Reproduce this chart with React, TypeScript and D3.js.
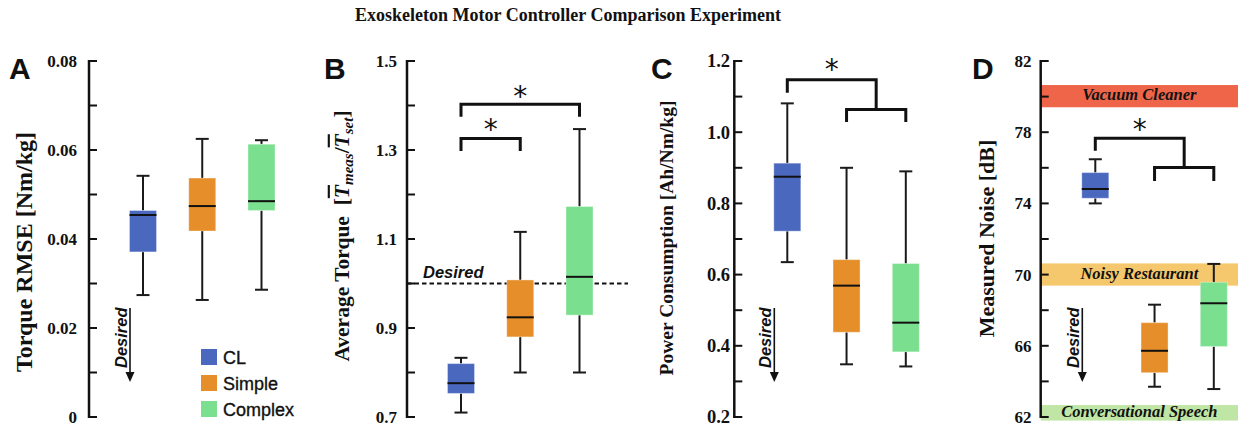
import React from "react";
import * as d3 from "d3";

// ---------------- data ----------------
const controllers = ["CL", "Simple", "Complex"];
const controllerColors = ["#4a68be", "#e68f2a", "#7adf8e"];

// each row: [lower whisker, Q1, median, Q3, upper whisker]
const rmseCL = [0.0274, 0.0371, 0.0454, 0.0464, 0.0542];
const rmseSimple = [0.0263, 0.0418, 0.0474, 0.0537, 0.0625];
const rmseComplex = [0.0286, 0.0464, 0.0485, 0.0613, 0.0622];

const torqueCL = [0.71, 0.753, 0.776, 0.82, 0.833];
const torqueSimple = [0.8, 0.88, 0.924, 1.008, 1.116];
const torqueComplex = [0.8, 0.929, 1.015, 1.173, 1.347];

const powerCL = [0.635, 0.722, 0.875, 0.913, 1.081];
const powerSimple = [0.348, 0.438, 0.569, 0.642, 0.9];
const powerComplex = [0.342, 0.383, 0.465, 0.631, 0.89];

const noiseCL = [74.0, 74.29, 74.81, 75.73, 76.48];
const noiseSimple = [63.7, 64.49, 65.72, 67.3, 68.31];
const noiseComplex = [63.57, 65.96, 68.39, 69.57, 70.6];

const rmseTicks = [0, 0.02, 0.04, 0.06, 0.08];
const torqueTicks = [0.7, 0.9, 1.1, 1.3, 1.5];
const powerTicks = [0.2, 0.4, 0.6, 0.8, 1.0, 1.2];
const noiseTicks = [62, 66, 70, 74, 78, 82];

const desiredTorque = 1.0;

const noiseBandLabels = ["Vacuum Cleaner", "Noisy Restaurant", "Conversational Speech"];
const noiseBandLow = [79.4, 69.38, 61.8];
const noiseBandHigh = [80.65, 70.63, 62.67];
const noiseBandColors = ["#ee6549", "#f5c86d", "#bfe6a4"];

// significance brackets (value coordinates)
// simple bracket: [fromIdx, toIdx, top, legBottom, starValue]
const torqueBrackets = [
  [0, 1, 1.326, 1.298, 1.356],
  [0, 2, 1.403, 1.375, 1.431],
];
// split bracket: [top, leftLegBottom, lowerTop, lowerLegBottom, starValue]
const powerSplit = [1.147, 1.111, 1.064, 1.029, 1.189];
const noiseSplit = [77.66, 76.96, 76.01, 75.26, 78.4];

// ---------------- layout ----------------
const W = 1238;
const H = 428;
const TOP = 61;
const BOTTOM = 417;
const SERIF = "'Liberation Serif', 'Times New Roman', serif";
const SANS = "'Liberation Sans', Arial, sans-serif";

type Panel = {
  letter: string;
  letterX: number;
  axisX: number;
  firstOffset: number;
  domain: [number, number];
  nTicks: number;
  labels: number[];
  fmt: (v: number) => string;
  labelRight: number;
  labelSize: number;
  stats: number[][];
  titleX: number;
  titleY: number;
  titleSize: number;
};

const panels: Panel[] = [
  {
    letter: "A", letterX: 9, axisX: 89, firstOffset: 54, domain: [0, 0.08], nTicks: 8,
    labels: rmseTicks, fmt: (v) => (v === 0 ? "0" : v.toFixed(2)), labelRight: 77, labelSize: 17,
    stats: [rmseCL, rmseSimple, rmseComplex], titleX: 26.5, titleY: 252, titleSize: 24,
  },
  {
    letter: "B", letterX: 324, axisX: 407, firstOffset: 54, domain: [0.7, 1.5], nTicks: 8,
    labels: torqueTicks, fmt: (v) => v.toFixed(1), labelRight: 397, labelSize: 17,
    stats: [torqueCL, torqueSimple, torqueComplex], titleX: 344, titleY: 236, titleSize: 21.5,
  },
  {
    letter: "C", letterX: 651, axisX: 734.3, firstOffset: 53, domain: [0.2, 1.2], nTicks: 10,
    labels: powerTicks, fmt: (v) => v.toFixed(1), labelRight: 730, labelSize: 18.5,
    stats: [powerCL, powerSimple, powerComplex], titleX: 668.5, titleY: 238, titleSize: 19.5,
  },
  {
    letter: "D", letterX: 972, axisX: 1040.7, firstOffset: 54.6, domain: [62, 82], nTicks: 10,
    labels: noiseTicks, fmt: (v) => v.toFixed(0), labelRight: 1031.5, labelSize: 17,
    stats: [noiseCL, noiseSimple, noiseComplex], titleX: 989.5, titleY: 238.5, titleSize: 22,
  },
];

const BOX_W = 27;
const CAP_W = 13;
const SPAN = 118.5;

function Star({ x, y }: { x: number; y: number }) {
  return (
    <text x={x} y={y + 14} textAnchor="middle" fontFamily="'DejaVu Sans', sans-serif" fontSize={28} fill="#111">
      *
    </text>
  );
}

function DesiredArrow({ x }: { x: number }) {
  return (
    <g>
      <line x1={x} x2={x} y1={308} y2={373} stroke="#111" strokeWidth={1.6} />
      <path d={`M${x - 4.5},${372} L${x + 4.5},${372} L${x},${382} Z`} fill="#111" />
      <text
        transform={`translate(${x - 3},${368}) rotate(-90)`}
        fontFamily={SANS}
        fontStyle="italic"
        fontWeight="bold"
        fontSize={16.5}
        fill="#111"
      >
        Desired
      </text>
    </g>
  );
}

function PanelView({ p, idx }: { p: Panel; idx: number }) {
  const y = d3.scaleLinear().domain(p.domain).range([BOTTOM, TOP]);
  const x = d3
    .scalePoint<string>()
    .domain(controllers)
    .range([p.axisX + p.firstOffset, p.axisX + p.firstOffset + SPAN]);
  const minor = y.ticks(p.nTicks);
  const cx = (i: number) => x(controllers[i]) as number;

  return (
    <g>
      {/* noise reference bands */}
      {idx === 3 &&
        noiseBandLabels.map((lab, i) => {
          const y0 = y(noiseBandHigh[i]);
          const y1 = y(noiseBandLow[i]);
          return (
            <g key={lab}>
              <rect x={p.axisX} y={y0} width={W - p.axisX} height={y1 - y0} fill={noiseBandColors[i]} />
              <text
                x={(p.axisX + W) / 2}
                y={(y0 + y1) / 2 + 4}
                textAnchor="middle"
                fontFamily={SERIF}
                fontStyle="italic"
                fontWeight="bold"
                fontSize={16.5}
                fill="#111"
              >
                {lab}
              </text>
            </g>
          );
        })}

      {/* desired dashed line for B */}
      {idx === 1 && (
        <g>
          <line
            x1={p.axisX}
            x2={628}
            y1={y(desiredTorque)}
            y2={y(desiredTorque)}
            stroke="#111"
            strokeWidth={1.8}
            strokeDasharray="4.5,3"
          />
          <text x={423} y={y(desiredTorque) - 6} fontFamily={SANS} fontStyle="italic" fontWeight="bold" fontSize={16.5} fill="#111">
            Desired
          </text>
        </g>
      )}

      {/* box plots */}
      {p.stats.map((s, i) => {
        const c = cx(i);
        const [lo, q1, med, q3, hi] = s;
        return (
          <g key={i}>
            <line x1={c} x2={c} y1={y(hi)} y2={y(q3)} stroke="#1a1a1a" strokeWidth={2} />
            <line x1={c} x2={c} y1={y(q1)} y2={y(lo)} stroke="#1a1a1a" strokeWidth={2} />
            <line x1={c - CAP_W / 2} x2={c + CAP_W / 2} y1={y(hi)} y2={y(hi)} stroke="#1a1a1a" strokeWidth={2} />
            <line x1={c - CAP_W / 2} x2={c + CAP_W / 2} y1={y(lo)} y2={y(lo)} stroke="#1a1a1a" strokeWidth={2} />
            <rect
              x={c - BOX_W / 2}
              y={y(q3)}
              width={BOX_W}
              height={y(q1) - y(q3)}
              fill={controllerColors[i]}
              stroke="#ffffff"
              strokeOpacity={0.35}
              strokeWidth={1}
            />
            <line x1={c - BOX_W / 2} x2={c + BOX_W / 2} y1={y(med)} y2={y(med)} stroke="#111" strokeWidth={2} />
          </g>
        );
      })}

      {/* y axis */}
      <line x1={p.axisX} x2={p.axisX} y1={TOP - 1} y2={BOTTOM + 1} stroke="#111" strokeWidth={2.5} />
      {minor.map((t) => (
        <line key={t} x1={p.axisX} x2={p.axisX + 8} y1={y(t)} y2={y(t)} stroke="#111" strokeWidth={2} />
      ))}
      {p.labels.map((t) => (
        <text
          key={t}
          x={p.labelRight}
          y={y(t)}
          dy="0.35em"
          textAnchor="end"
          fontFamily={SERIF}
          fontWeight="bold"
          fontSize={p.labelSize}
          fill="#111"
        >
          {p.fmt(t)}
        </text>
      ))}

      {/* panel letter */}
      <text x={p.letterX} y={79} fontFamily={SANS} fontWeight="bold" fontSize={30} fill="#111">
        {p.letter}
      </text>

      {/* axis title */}
      {idx === 1 ? (
        <text
          transform={`translate(${p.titleX + 0.22 * p.titleSize},${p.titleY}) rotate(-90)`}
          textAnchor="middle"
          fontFamily={SERIF}
          fontWeight="bold"
          fontSize={p.titleSize}
          fill="#111"
          style={{ whiteSpace: "pre" }}
        >
          <tspan>{"Average Torque  ["}</tspan>
          <tspan fontStyle="italic" textDecoration="overline">T</tspan>
          <tspan fontStyle="italic" fontSize={15} dy={4}>meas</tspan>
          <tspan dy={-4}>/</tspan>
          <tspan fontStyle="italic" textDecoration="overline">T</tspan>
          <tspan fontStyle="italic" fontSize={15} dy={4}>set</tspan>
          <tspan dy={-4}>]</tspan>
        </text>
      ) : (
        <text
          transform={`translate(${p.titleX + 0.22 * p.titleSize},${p.titleY}) rotate(-90)`}
          textAnchor="middle"
          fontFamily={SERIF}
          fontWeight="bold"
          fontSize={p.titleSize}
          fill="#111"
        >
          {idx === 0 ? "Torque RMSE [Nm/kg]" : idx === 2 ? "Power Consumption [Ah/Nm/kg]" : "Measured Noise [dB]"}
        </text>
      )}

      {/* desired arrows */}
      {idx !== 1 && <DesiredArrow x={cx(0) - 13} />}

      {/* significance: B */}
      {idx === 1 &&
        torqueBrackets.map((b, k) => {
          const x0 = cx(b[0]);
          const x1 = cx(b[1]);
          return (
            <g key={k}>
              <path
                d={`M${x0},${y(b[3])} V${y(b[2])} H${x1} V${y(b[3])}`}
                fill="none"
                stroke="#111"
                strokeWidth={3}
              />
              <Star x={(x0 + x1) / 2} y={y(b[4])} />
            </g>
          );
        })}

      {/* significance: C and D split brackets */}
      {(idx === 2 || idx === 3) &&
        (() => {
          const sp = idx === 2 ? powerSplit : noiseSplit;
          const x0 = cx(0);
          const x1 = cx(1);
          const x2 = cx(2);
          const mid = (x1 + x2) / 2;
          return (
            <g>
              <path
                d={`M${x0},${y(sp[1])} V${y(sp[0])} H${mid} V${y(sp[2])}`}
                fill="none"
                stroke="#111"
                strokeWidth={3}
              />
              <path
                d={`M${x1},${y(sp[3])} V${y(sp[2])} H${x2} V${y(sp[3])}`}
                fill="none"
                stroke="#111"
                strokeWidth={3}
              />
              <Star x={(x0 + mid) / 2} y={y(sp[4])} />
            </g>
          );
        })()}

      {/* legend in A */}
      {idx === 0 &&
        controllers.map((c, i) => (
          <g key={c}>
            <rect x={201} y={349 + i * 26} width={16} height={16} fill={controllerColors[i]} />
            <text x={223} y={363.5 + i * 26} fontFamily={SANS} fontSize={18} fill="#111" stroke="#111" strokeWidth={0.35}>
              {c}
            </text>
          </g>
        ))}
    </g>
  );
}

export default function App() {
  return (
    <svg
      width={W}
      height={H}
      viewBox={`0 0 ${W} ${H}`}
      style={{ position: "absolute", left: 0, top: 0, background: "#fff" }}
    >
      <rect x={0} y={0} width={W} height={H} fill="#fff" />
      <text x={568} y={21} textAnchor="middle" fontFamily={SERIF} fontWeight="bold" fontSize={18} fill="#111">
        Exoskeleton Motor Controller Comparison Experiment
      </text>
      {panels.map((p, i) => (
        <PanelView key={p.letter} p={p} idx={i} />
      ))}
    </svg>
  );
}
